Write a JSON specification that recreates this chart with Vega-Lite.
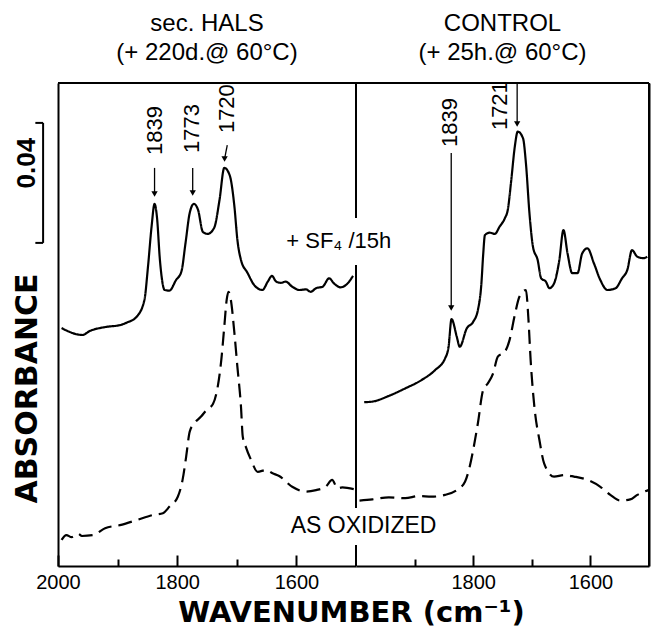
{
  "$schema": "https://vega.github.io/schema/vega-lite/v6.json",
  "background": "white",
  "width": 591,
  "height": 483,
  "padding": {"left": 12, "top": 12, "right": 4, "bottom": 0},
  "config": {"view": {"stroke": null}},
  "datasets": {
    "hals": [
      {"trace": "SF4", "w": 1994, "a": 0.0793}, {"trace": "SF4", "w": 1959, "a": 0.0770}, {"trace": "SF4", "w": 1947, "a": 0.0783}, {"trace": "SF4", "w": 1919, "a": 0.0797}, {"trace": "SF4", "w": 1896, "a": 0.0803}, {"trace": "SF4", "w": 1885, "a": 0.0811}, {"trace": "SF4", "w": 1868, "a": 0.0831}, {"trace": "SF4", "w": 1855, "a": 0.0887}, {"trace": "SF4", "w": 1849, "a": 0.0998}, {"trace": "SF4", "w": 1843, "a": 0.1131}, {"trace": "SF4", "w": 1838, "a": 0.1207}, {"trace": "SF4", "w": 1834, "a": 0.1164}, {"trace": "SF4", "w": 1829, "a": 0.1020}, {"trace": "SF4", "w": 1821, "a": 0.0920}, {"trace": "SF4", "w": 1813, "a": 0.0918}, {"trace": "SF4", "w": 1802, "a": 0.0953}, {"trace": "SF4", "w": 1793, "a": 0.0981}, {"trace": "SF4", "w": 1786, "a": 0.1077}, {"trace": "SF4", "w": 1779, "a": 0.1177}, {"trace": "SF4", "w": 1772, "a": 0.1207}, {"trace": "SF4", "w": 1765, "a": 0.1187}, {"trace": "SF4", "w": 1757, "a": 0.1114}, {"trace": "SF4", "w": 1749, "a": 0.1107}, {"trace": "SF4", "w": 1738, "a": 0.1127}, {"trace": "SF4", "w": 1729, "a": 0.1220}, {"trace": "SF4", "w": 1721, "a": 0.1327}, {"trace": "SF4", "w": 1712, "a": 0.1303}, {"trace": "SF4", "w": 1704, "a": 0.1198}, {"trace": "SF4", "w": 1699, "a": 0.1087}, {"trace": "SF4", "w": 1693, "a": 0.1020}, {"trace": "SF4", "w": 1682, "a": 0.0977}, {"trace": "SF4", "w": 1671, "a": 0.0937}, {"trace": "SF4", "w": 1657, "a": 0.0920}, {"trace": "SF4", "w": 1648, "a": 0.0948}, {"trace": "SF4", "w": 1641, "a": 0.0967}, {"trace": "SF4", "w": 1634, "a": 0.0948}, {"trace": "SF4", "w": 1626, "a": 0.0944}, {"trace": "SF4", "w": 1618, "a": 0.0948}, {"trace": "SF4", "w": 1607, "a": 0.0931}, {"trace": "SF4", "w": 1595, "a": 0.0920}, {"trace": "SF4", "w": 1584, "a": 0.0922}, {"trace": "SF4", "w": 1576, "a": 0.0914}, {"trace": "SF4", "w": 1567, "a": 0.0926}, {"trace": "SF4", "w": 1556, "a": 0.0931}, {"trace": "SF4", "w": 1545, "a": 0.0959}, {"trace": "SF4", "w": 1537, "a": 0.0942}, {"trace": "SF4", "w": 1526, "a": 0.0929}, {"trace": "SF4", "w": 1515, "a": 0.0940}, {"trace": "SF4", "w": 1505, "a": 0.0967},
      {"trace": "oxidized", "w": 1994, "a": 0.0087}, {"trace": "oxidized", "w": 1986, "a": 0.0103}, {"trace": "oxidized", "w": 1977, "a": 0.0096}, {"trace": "oxidized", "w": 1966, "a": 0.0107}, {"trace": "oxidized", "w": 1960, "a": 0.0100}, {"trace": "oxidized", "w": 1941, "a": 0.0103}, {"trace": "oxidized", "w": 1921, "a": 0.0126}, {"trace": "oxidized", "w": 1894, "a": 0.0137}, {"trace": "oxidized", "w": 1868, "a": 0.0153}, {"trace": "oxidized", "w": 1841, "a": 0.0170}, {"trace": "oxidized", "w": 1824, "a": 0.0176}, {"trace": "oxidized", "w": 1813, "a": 0.0198}, {"trace": "oxidized", "w": 1799, "a": 0.0231}, {"trace": "oxidized", "w": 1791, "a": 0.0287}, {"trace": "oxidized", "w": 1785, "a": 0.0364}, {"trace": "oxidized", "w": 1779, "a": 0.0448}, {"trace": "oxidized", "w": 1771, "a": 0.0476}, {"trace": "oxidized", "w": 1760, "a": 0.0498}, {"trace": "oxidized", "w": 1751, "a": 0.0520}, {"trace": "oxidized", "w": 1740, "a": 0.0540}, {"trace": "oxidized", "w": 1732, "a": 0.0598}, {"trace": "oxidized", "w": 1726, "a": 0.0687}, {"trace": "oxidized", "w": 1721, "a": 0.0798}, {"trace": "oxidized", "w": 1717, "a": 0.0887}, {"trace": "oxidized", "w": 1714, "a": 0.0914}, {"trace": "oxidized", "w": 1710, "a": 0.0887}, {"trace": "oxidized", "w": 1704, "a": 0.0776}, {"trace": "oxidized", "w": 1699, "a": 0.0664}, {"trace": "oxidized", "w": 1693, "a": 0.0531}, {"trace": "oxidized", "w": 1690, "a": 0.0431}, {"trace": "oxidized", "w": 1685, "a": 0.0398}, {"trace": "oxidized", "w": 1676, "a": 0.0353}, {"trace": "oxidized", "w": 1665, "a": 0.0314}, {"trace": "oxidized", "w": 1651, "a": 0.0320}, {"trace": "oxidized", "w": 1640, "a": 0.0309}, {"trace": "oxidized", "w": 1629, "a": 0.0300}, {"trace": "oxidized", "w": 1607, "a": 0.0264}, {"trace": "oxidized", "w": 1584, "a": 0.0248}, {"trace": "oxidized", "w": 1567, "a": 0.0253}, {"trace": "oxidized", "w": 1551, "a": 0.0264}, {"trace": "oxidized", "w": 1540, "a": 0.0287}, {"trace": "oxidized", "w": 1531, "a": 0.0259}, {"trace": "oxidized", "w": 1523, "a": 0.0262}, {"trace": "oxidized", "w": 1503, "a": 0.0256}
    ],
    "control": [
      {"trace": "SF4", "w": 1986, "a": 0.0546}, {"trace": "SF4", "w": 1972, "a": 0.0548}, {"trace": "SF4", "w": 1944, "a": 0.0567}, {"trace": "SF4", "w": 1916, "a": 0.0592}, {"trace": "SF4", "w": 1888, "a": 0.0620}, {"trace": "SF4", "w": 1865, "a": 0.0653}, {"trace": "SF4", "w": 1848, "a": 0.0692}, {"trace": "SF4", "w": 1842, "a": 0.0731}, {"trace": "SF4", "w": 1837, "a": 0.0823}, {"trace": "SF4", "w": 1828, "a": 0.0764}, {"trace": "SF4", "w": 1823, "a": 0.0731}, {"trace": "SF4", "w": 1811, "a": 0.0792}, {"trace": "SF4", "w": 1800, "a": 0.0814}, {"trace": "SF4", "w": 1792, "a": 0.0853}, {"trace": "SF4", "w": 1786, "a": 0.0942}, {"trace": "SF4", "w": 1783, "a": 0.1037}, {"trace": "SF4", "w": 1780, "a": 0.1103}, {"trace": "SF4", "w": 1772, "a": 0.1111}, {"trace": "SF4", "w": 1763, "a": 0.1107}, {"trace": "SF4", "w": 1755, "a": 0.1131}, {"trace": "SF4", "w": 1746, "a": 0.1159}, {"trace": "SF4", "w": 1741, "a": 0.1187}, {"trace": "SF4", "w": 1735, "a": 0.1287}, {"trace": "SF4", "w": 1729, "a": 0.1398}, {"trace": "SF4", "w": 1724, "a": 0.1448}, {"trace": "SF4", "w": 1715, "a": 0.1426}, {"trace": "SF4", "w": 1710, "a": 0.1342}, {"trace": "SF4", "w": 1704, "a": 0.1176}, {"trace": "SF4", "w": 1698, "a": 0.1064}, {"trace": "SF4", "w": 1690, "a": 0.1020}, {"trace": "SF4", "w": 1684, "a": 0.0959}, {"trace": "SF4", "w": 1676, "a": 0.0948}, {"trace": "SF4", "w": 1670, "a": 0.0926}, {"trace": "SF4", "w": 1662, "a": 0.0942}, {"trace": "SF4", "w": 1653, "a": 0.1020}, {"trace": "SF4", "w": 1646, "a": 0.1120}, {"trace": "SF4", "w": 1639, "a": 0.1042}, {"trace": "SF4", "w": 1631, "a": 0.0976}, {"trace": "SF4", "w": 1622, "a": 0.0976}, {"trace": "SF4", "w": 1614, "a": 0.1042}, {"trace": "SF4", "w": 1605, "a": 0.1059}, {"trace": "SF4", "w": 1594, "a": 0.1009}, {"trace": "SF4", "w": 1583, "a": 0.0953}, {"trace": "SF4", "w": 1571, "a": 0.0920}, {"trace": "SF4", "w": 1557, "a": 0.0926}, {"trace": "SF4", "w": 1546, "a": 0.0959}, {"trace": "SF4", "w": 1537, "a": 0.0987}, {"trace": "SF4", "w": 1529, "a": 0.1053}, {"trace": "SF4", "w": 1520, "a": 0.1031}, {"trace": "SF4", "w": 1509, "a": 0.1026}, {"trace": "SF4", "w": 1503, "a": 0.1031},
      {"trace": "oxidized", "w": 1994, "a": 0.0218}, {"trace": "oxidized", "w": 1972, "a": 0.0222}, {"trace": "oxidized", "w": 1944, "a": 0.0229}, {"trace": "oxidized", "w": 1916, "a": 0.0226}, {"trace": "oxidized", "w": 1893, "a": 0.0233}, {"trace": "oxidized", "w": 1871, "a": 0.0231}, {"trace": "oxidized", "w": 1848, "a": 0.0237}, {"trace": "oxidized", "w": 1828, "a": 0.0253}, {"trace": "oxidized", "w": 1814, "a": 0.0281}, {"trace": "oxidized", "w": 1806, "a": 0.0331}, {"trace": "oxidized", "w": 1800, "a": 0.0387}, {"trace": "oxidized", "w": 1792, "a": 0.0476}, {"trace": "oxidized", "w": 1783, "a": 0.0587}, {"trace": "oxidized", "w": 1775, "a": 0.0609}, {"trace": "oxidized", "w": 1766, "a": 0.0642}, {"trace": "oxidized", "w": 1758, "a": 0.0698}, {"trace": "oxidized", "w": 1746, "a": 0.0714}, {"trace": "oxidized", "w": 1738, "a": 0.0753}, {"trace": "oxidized", "w": 1729, "a": 0.0837}, {"trace": "oxidized", "w": 1721, "a": 0.0898}, {"trace": "oxidized", "w": 1710, "a": 0.0920}, {"trace": "oxidized", "w": 1706, "a": 0.0831}, {"trace": "oxidized", "w": 1702, "a": 0.0687}, {"trace": "oxidized", "w": 1695, "a": 0.0520}, {"trace": "oxidized", "w": 1687, "a": 0.0420}, {"trace": "oxidized", "w": 1679, "a": 0.0342}, {"trace": "oxidized", "w": 1662, "a": 0.0298}, {"trace": "oxidized", "w": 1645, "a": 0.0303}, {"trace": "oxidized", "w": 1628, "a": 0.0298}, {"trace": "oxidized", "w": 1605, "a": 0.0287}, {"trace": "oxidized", "w": 1583, "a": 0.0264}, {"trace": "oxidized", "w": 1566, "a": 0.0237}, {"trace": "oxidized", "w": 1549, "a": 0.0218}, {"trace": "oxidized", "w": 1532, "a": 0.0222}, {"trace": "oxidized", "w": 1520, "a": 0.0237}, {"trace": "oxidized", "w": 1501, "a": 0.0253}
    ],
    "leftFrame": [
      {"w": 2000, "w2": 1500, "a": 0.161, "a2": 0.161},
      {"w": 1500, "w2": 1500, "a": 0.116, "a2": 0.161},
      {"w": 1500, "w2": 1500, "a": 0.0193, "a2": 0.1003},
      {"w": 1500, "w2": 1500, "a": 0, "a2": 0.007},
      {"w": 2025, "w2": 2025, "a": 0.1077, "a2": 0.1477},
      {"w": 2038, "w2": 2025, "a": 0.1477, "a2": 0.1477},
      {"w": 2038, "w2": 2025, "a": 0.1077, "a2": 0.1077}
    ],
    "rightFrame": [
      {"w": 2000, "w2": 1500, "a": 0.161, "a2": 0.161},
      {"w": 1500, "w2": 1500, "a": 0, "a2": 0.161}
    ],
    "leftArrows": [
      {"w": 1838, "w2": 1838, "a": 0.1327, "a2": 0.1240},
      {"w": 1774, "w2": 1774, "a": 0.1327, "a2": 0.1243},
      {"w": 1716, "w2": 1720.5, "a": 0.1403, "a2": 0.1357}
    ],
    "rightArrows": [
      {"w": 1837.5, "w2": 1837.5, "a": 0.1377, "a2": 0.0860},
      {"w": 1725, "w2": 1725, "a": 0.161, "a2": 0.1473}
    ],
    "leftHeads": [
      {"w": 1838, "a": 0.1240}, {"w": 1774, "a": 0.1243}, {"w": 1720.5, "a": 0.1357}
    ],
    "rightHeads": [
      {"w": 1837.5, "a": 0.0860}, {"w": 1725, "a": 0.1473}
    ],
    "leftPeaks": [
      {"label": "1839", "w": 1838, "a": 0.137},
      {"label": "1773", "w": 1776, "a": 0.1377},
      {"label": "1720", "w": 1717, "a": 0.1443}
    ],
    "rightPeaks": [
      {"label": "1839", "w": 1839, "a": 0.1397},
      {"label": "1721", "w": 1754, "a": 0.1453}
    ],
    "leftTitle": [
      {"label": "sec. HALS", "w": 1750, "a": 0.1783},
      {"label": "(+ 220d.@ 60°C)", "w": 1750, "a": 0.1687}
    ],
    "rightTitle": [
      {"label": "CONTROL", "w": 1750, "a": 0.1783},
      {"label": "(+ 25h.@ 60°C)", "w": 1750, "a": 0.1687}
    ]
  },
  "resolve": {"scale": {"x": "independent"}, "axis": {"x": "independent", "y": "independent"}},
  "layer": [
    {
      "encoding": {
        "x": {"field": "w", "type": "quantitative", "scale": {"domain": [2000, 1500], "range": [0, 298], "nice": false, "zero": false},
          "axis": {"orient": "bottom", "values": [2000, 1900, 1800, 1700, 1600], "format": "d", "labelExpr": "datum.value % 200 === 0 ? datum.label : ''", "labelFont": "Liberation Sans", "labelFontSize": 20, "labelColor": "black", "labelPadding": 17, "labelFlush": false, "labelOverlap": false,
            "tickSize": {"condition": {"test": "datum.value % 200 === 0", "value": -11}, "value": -7}, "tickColor": "black", "tickWidth": 2, "domainColor": "black", "domainWidth": 2, "grid": false,
            "title": "WAVENUMBER (cm⁻¹)", "titleFont": "DejaVu Sans", "titleFontSize": 29, "titleFontWeight": "bold", "titleColor": "black", "titleX": 293, "titleY": 55, "titleAlign": "center", "titleBaseline": "alphabetic", "titleAngle": 0}},
        "y": {"field": "a", "type": "quantitative", "scale": {"domain": [0, 0.161], "nice": false, "zero": false},
          "axis": {"orient": "left", "title": "ABSORBANCE", "labels": false, "ticks": false, "grid": false, "domain": true, "domainColor": "black", "domainWidth": 2, "titleFont": "DejaVu Sans", "titleFontSize": 30, "titleFontWeight": "bold", "titleColor": "black", "titleAngle": 270, "titleX": -31, "titleY": 305, "titleAlign": "center", "titleBaseline": "middle"}}
      },
      "layer": [
        {
          "data": {"name": "hals"},
          "mark": {"type": "line", "color": "black", "strokeWidth": 2.2, "interpolate": "monotone"},
          "encoding": {
            "strokeDash": {"field": "trace", "type": "nominal", "scale": {"domain": ["SF4", "oxidized"], "range": [[1, 0], [14, 7]]}, "legend": null}
          }
        },
        {
          "data": {"name": "leftFrame"},
          "mark": {"type": "rule", "color": "black", "strokeWidth": 2},
          "encoding": {"x2": {"field": "w2"}, "y2": {"field": "a2"}}
        },
        {
          "data": {"name": "leftArrows"},
          "mark": {"type": "rule", "color": "black", "strokeWidth": 1.3},
          "encoding": {"x2": {"field": "w2"}, "y2": {"field": "a2"}}
        },
        {
          "data": {"name": "leftHeads"},
          "mark": {"type": "point", "shape": "triangle-down", "filled": true, "color": "black", "size": 40, "opacity": 1}
        },
        {
          "data": {"name": "leftPeaks"},
          "mark": {"type": "text", "angle": 270, "align": "left", "baseline": "middle", "font": "Liberation Sans", "fontSize": 22, "color": "black"},
          "encoding": {"text": {"field": "label"}}
        },
        {
          "data": {"name": "leftTitle"},
          "mark": {"type": "text", "align": "center", "baseline": "alphabetic", "font": "Liberation Sans", "fontSize": 24, "color": "black"},
          "encoding": {"text": {"field": "label"}}
        },
        {
          "data": {"values": [{"label": "0.04", "w": 2052, "a": 0.1343}]},
          "mark": {"type": "text", "angle": 270, "align": "center", "baseline": "middle", "font": "Liberation Sans", "fontWeight": "bold", "fontSize": 26, "color": "black"},
          "encoding": {"text": {"field": "label"}}
        },
        {
          "data": {"values": [{"label": "+ SF₄ /15h", "w": 1617, "a": 0.106}]},
          "mark": {"type": "text", "align": "left", "baseline": "alphabetic", "font": "Liberation Sans", "fontSize": 22, "color": "black"},
          "encoding": {"text": {"field": "label"}}
        }
      ]
    },
    {
      "encoding": {
        "x": {"field": "w", "type": "quantitative", "scale": {"domain": [2000, 1500], "range": [298, 591], "nice": false, "zero": false},
          "axis": {"orient": "bottom", "values": [1900, 1800, 1700, 1600], "format": "d", "labelExpr": "datum.value % 200 === 0 ? datum.label : ''", "labelFont": "Liberation Sans", "labelFontSize": 20, "labelColor": "black", "labelPadding": 17, "labelFlush": false, "labelOverlap": false,
            "tickSize": {"condition": {"test": "datum.value % 200 === 0", "value": -11}, "value": -7}, "tickColor": "black", "tickWidth": 2, "domainColor": "black", "domainWidth": 2, "grid": false, "title": null}},
        "y": {"field": "a", "type": "quantitative", "scale": {"domain": [0, 0.161], "nice": false, "zero": false},
          "axis": {"orient": "right", "title": null, "labels": false, "ticks": false, "grid": false, "domain": true, "domainColor": "black", "domainWidth": 2}}
      },
      "layer": [
        {
          "data": {"name": "control"},
          "mark": {"type": "line", "color": "black", "strokeWidth": 2.2, "interpolate": "monotone"},
          "encoding": {
            "strokeDash": {"field": "trace", "type": "nominal", "scale": {"domain": ["SF4", "oxidized"], "range": [[1, 0], [14, 7]]}, "legend": null}
          }
        },
        {
          "data": {"name": "rightFrame"},
          "mark": {"type": "rule", "color": "black", "strokeWidth": 2},
          "encoding": {"x2": {"field": "w2"}, "y2": {"field": "a2"}}
        },
        {
          "data": {"name": "rightArrows"},
          "mark": {"type": "rule", "color": "black", "strokeWidth": 1.3},
          "encoding": {"x2": {"field": "w2"}, "y2": {"field": "a2"}}
        },
        {
          "data": {"name": "rightHeads"},
          "mark": {"type": "point", "shape": "triangle-down", "filled": true, "color": "black", "size": 40, "opacity": 1}
        },
        {
          "data": {"name": "rightPeaks"},
          "mark": {"type": "text", "angle": 270, "align": "left", "baseline": "middle", "font": "Liberation Sans", "fontSize": 22, "color": "black"},
          "encoding": {"text": {"field": "label"}}
        },
        {
          "data": {"name": "rightTitle"},
          "mark": {"type": "text", "align": "center", "baseline": "alphabetic", "font": "Liberation Sans", "fontSize": 24, "color": "black"},
          "encoding": {"text": {"field": "label"}}
        },
        {
          "data": {"values": [{"label": "AS OXIDIZED", "w": 1987, "a": 0.011}]},
          "mark": {"type": "text", "align": "center", "baseline": "alphabetic", "font": "Liberation Sans", "fontSize": 23, "color": "black"},
          "encoding": {"text": {"field": "label"}}
        }
      ]
    }
  ]
}
